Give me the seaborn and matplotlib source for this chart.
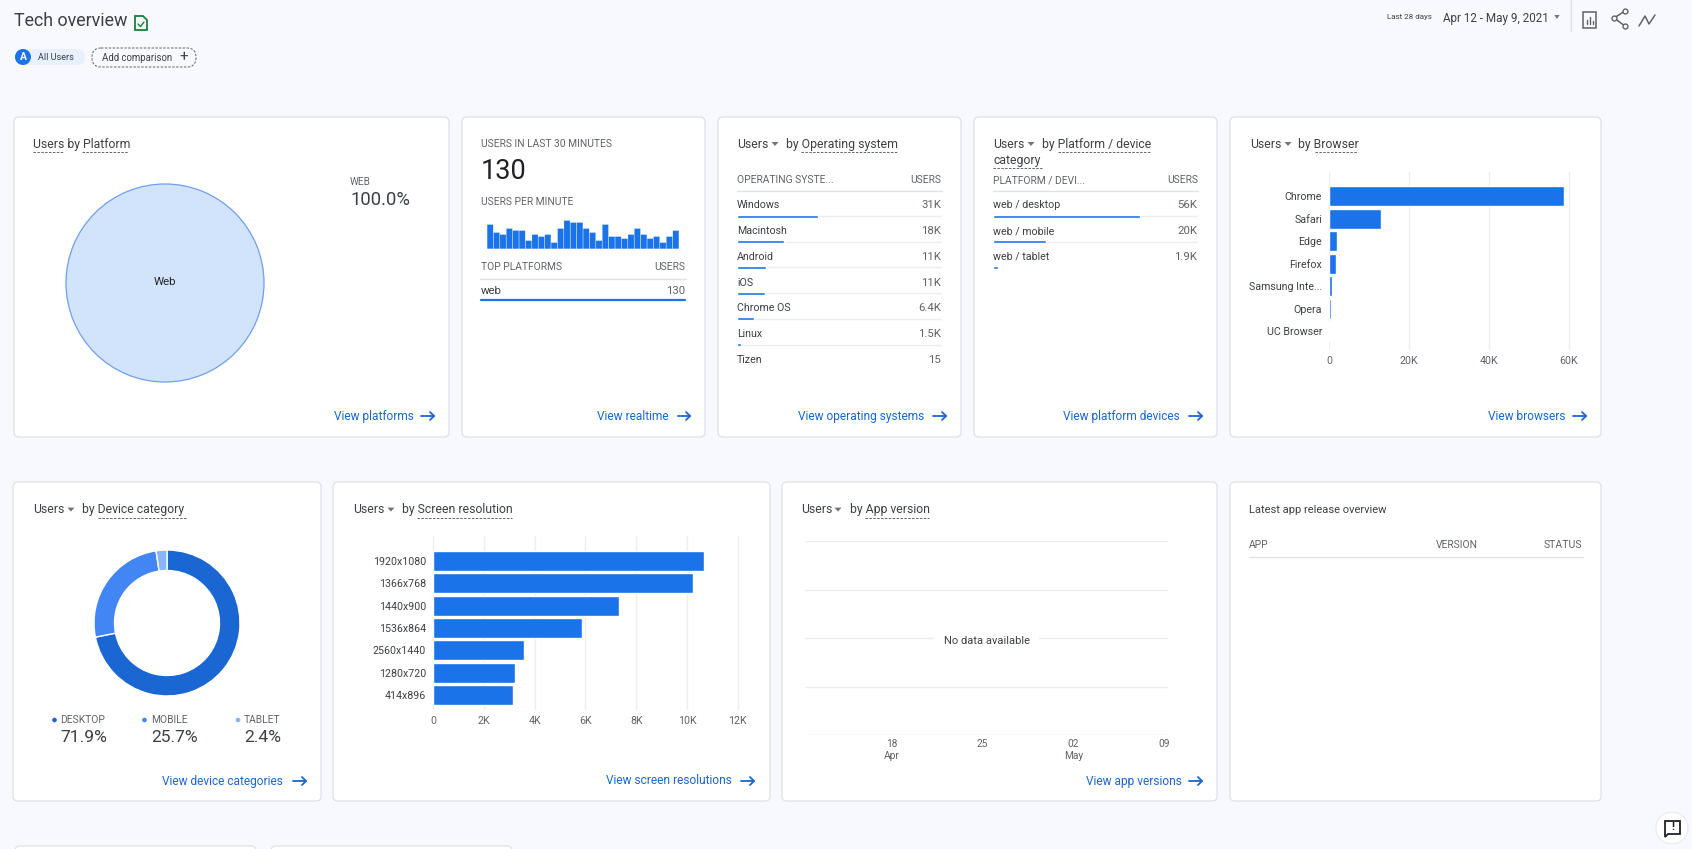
import matplotlib
matplotlib.use("Agg")
import matplotlib.pyplot as plt
from matplotlib.patches import FancyBboxPatch, Circle, Polygon, Rectangle
import seaborn as sns

platform_names = ["Web"]
platform_share = [100.0]

minute_slots = list(range(30))
users_per_minute = [12, 8, 7, 10, 9, 9, 4, 7, 6, 7, 3, 10, 14, 13, 13,
                    10, 8, 4, 12, 6, 6, 5, 7, 10, 7, 5, 6, 3, 6, 9]

os_names = ["Windows", "Macintosh", "Android", "iOS", "Chrome OS", "Linux", "Tizen"]
os_users = [31000, 18000, 11000, 10800, 6400, 1500, 15]
os_labels = ["31K", "18K", "11K", "11K", "6.4K", "1.5K", "15"]

device_rows = ["web / desktop", "web / mobile", "web / tablet"]
device_users = [56000, 20000, 1900]
device_labels = ["56K", "20K", "1.9K"]

browser_names = ["Chrome", "Safari", "Edge", "Firefox", "Samsung Inte...", "Opera", "UC Browser"]
browser_users = [58700, 13000, 2000, 1700, 700, 400, 200]
browser_ticks = [0, 20000, 40000, 60000]
browser_ticklabels = ["0", "20K", "40K", "60K"]

category_names = ["DESKTOP", "MOBILE", "TABLET"]
category_share = [71.9, 25.7, 2.4]

resolution_names = ["1920x1080", "1366x768", "1440x900", "1536x864", "2560x1440", "1280x720", "414x896"]
resolution_users = [10670, 10230, 7330, 5870, 3580, 3230, 3150]
resolution_ticks = [0, 2000, 4000, 6000, 8000, 10000, 12000]
resolution_ticklabels = ["0", "2K", "4K", "6K", "8K", "10K", "12K"]

version_days = [6, 13, 20, 27]
version_daylabels = ["18\nApr", "25", "02\nMay", "09"]
version_grid = [0, 1, 2, 3, 4]

# --- couleurs ---
BG = "#f8f9fe"
BORDER = "#dfe1e5"
GRID = "#eceef1"
TXT = "#3c4043"
TXT2 = "#5f6368"
LINK = "#1a66d2"
BLUE = "#1a73e8"

W, H = 1692, 849

sns.set_theme(style="white")
plt.rcParams["font.family"] = ["Roboto", "DejaVu Sans"]

fig = plt.figure(figsize=(W / 100, H / 100), dpi=100, facecolor=BG)

# axe de page en pixels, pour les cartes et les textes
page = fig.add_axes([0, 0, 1, 1])
page.set_xlim(0, W)
page.set_ylim(H, 0)
page.axis("off")


def px_axes(x0, y0, x1, y1):
    ax = fig.add_axes([x0 / W, 1 - y1 / H, (x1 - x0) / W, (y1 - y0) / H])
    ax.patch.set_alpha(0)
    return ax


def card(x0, y0, x1, y1):
    page.add_patch(FancyBboxPatch((x0, y0), x1 - x0, y1 - y0, boxstyle="round,pad=0,rounding_size=5",
                                  fc="white", ec=BORDER, lw=0.9, zorder=1))


def put(x, y, s, size=8.8, color=TXT, ha="left", **kw):
    page.text(x, y, s, fontsize=size, color=color, ha=ha, va="center", zorder=5, **kw)


def underline(x0, x1, y):
    page.plot([x0, x1], [y, y], color=TXT2, lw=0.7, ls=(0, (2.5, 1.5)), zorder=5)


def triangle(x, y, size=3.5, color="#70757a"):
    page.add_patch(Polygon([(x - size, y - 2), (x + size, y - 2), (x, y + 2)], fc=color, ec="none", zorder=5))


def card_title(x, x_tri, x_by, by, ul0, ul1, y):
    put(x, y, "Users")
    triangle(x_tri, y)
    put(x_by, y, by)
    underline(ul0, ul1, y + 8)


def link(x, x_a0, x_a1, y, s):
    put(x, y, s, size=8.6, color=LINK)
    page.plot([x_a0, x_a1], [y, y], color=LINK, lw=1.3, zorder=5)
    page.plot([x_a1 - 4, x_a1, x_a1 - 4], [y - 4, y, y + 4], color=LINK, lw=1.3, zorder=5)


def table_bars(x0, x1, y_first, row_h, names, values, labels):
    # une ligne par valeur: nom, total, barre fine sur le separateur
    n = len(values)
    ax = px_axes(x0, y_first - row_h / 2, x1, y_first + row_h * (n - 0.5))
    ax.hlines(range(n - 1), 0, sum(values), color=GRID, lw=1, zorder=1)
    sns.barplot(x=values, y=names, color=BLUE, saturation=1, width=3 / row_h, orient="h", ax=ax, zorder=2)
    ax.set_xlim(0, sum(values))
    ax.set_ylim(n - 0.5, -0.5)
    ax.axis("off")
    tr = ax.get_yaxis_transform()
    for i in range(n):
        ax.text(0, i - 0.41, names[i], transform=tr, fontsize=7.7, color=TXT, va="center")
        ax.text(0.995, i - 0.41, labels[i], transform=tr, fontsize=8.2, color=TXT2, va="center", ha="right")


def hbar_chart(box, names, values, ticks, ticklabels, xlim, ylim, bar_w):
    ax = px_axes(*box)
    sns.barplot(x=values, y=names, color=BLUE, saturation=1, width=bar_w, orient="h", ax=ax, zorder=2)
    ax.set_xlim(*xlim)
    ax.set_ylim(*ylim)
    ax.set_xlabel("")
    ax.set_ylabel("")
    ax.set_xticks(ticks, ticklabels)
    ax.grid(axis="x", color=GRID, lw=1, zorder=0)
    ax.tick_params(axis="both", length=0, labelsize=7.7, labelcolor=TXT2)
    ax.tick_params(axis="x", pad=4.5)
    ax.tick_params(axis="y", pad=5, labelcolor=TXT)
    sns.despine(ax=ax, left=True, bottom=True)
    return ax


# --- cartes ---
for box in [(14, 117, 449, 437), (462, 117, 705, 437), (718, 117, 961, 437),
            (974, 117, 1217, 437), (1230, 117, 1601, 437),
            (13, 482, 321, 801), (333, 482, 770, 801), (782, 482, 1217, 801), (1230, 482, 1601, 801),
            (15, 846, 256, 890), (271, 846, 512, 890)]:
    card(*box)

# --- en-tete ---
put(14, 21, "Tech overview", size=12.9)
page.add_patch(Polygon([(135, 16), (143, 16), (147, 20), (147, 30), (135, 30)], fc="none", ec="#188038", lw=1.3, zorder=5))
page.plot([138, 140.5, 144], [24, 26.5, 22], color="#188038", lw=1, zorder=5)

page.add_patch(FancyBboxPatch((15, 49), 70, 16, boxstyle="round,pad=0,rounding_size=8", fc="#e8f0fe", ec="none", zorder=2))
page.add_patch(Circle((23, 57), 8, fc=BLUE, ec="none", zorder=3))
put(23, 57, "A", size=7.5, color="white", ha="center", fontweight="bold")
put(38, 57.5, "All Users", size=6.6)
page.add_patch(FancyBboxPatch((92, 48), 104, 19, boxstyle="round,pad=0,rounding_size=9", fc="none", ec=TXT2,
                              lw=0.7, ls=(0, (2.5, 1.5)), zorder=3))
put(102, 57.5, "Add comparison", size=6.9)
put(184, 57, "+", size=11, ha="center")

put(1387, 17, "Last 28 days", size=5.8)
put(1443, 18, "Apr 12 - May 9, 2021", size=8.4)
triangle(1557, 17, size=2.6)
page.plot([1571, 1571], [0, 31], color=BORDER, lw=1, zorder=5)
page.add_patch(Rectangle((1583, 12), 13, 16, fc="none", ec=TXT2, lw=1.1, zorder=5))
page.plot([1587, 1587], [24, 20], color=TXT2, lw=1, zorder=5)
page.plot([1590, 1590], [24, 17], color=TXT2, lw=1, zorder=5)
page.plot([1593, 1593], [24, 21], color=TXT2, lw=1, zorder=5)
page.plot([1625, 1614, 1625], [11, 18, 26], color=TXT2, lw=1.1, marker="o", ms=3.5, mfc="white", mec=TXT2, zorder=5)
page.plot([1639, 1645, 1649, 1655], [26, 16, 24, 15], color=TXT2, lw=1.1, zorder=5)

# --- Users by Platform ---
put(33, 144, "Users by Platform")
underline(33, 63, 152)
underline(82, 128, 152)
ax_pie = px_axes(60, 178, 270, 388)
ax_pie.pie(platform_share, colors=["#d2e3fc"], radius=0.943, startangle=90,
           wedgeprops=dict(edgecolor="#6f9ff0", linewidth=0.9))
ax_pie.set_xlim(-1, 1)
ax_pie.set_ylim(-1, 1)
ax_pie.text(0, 0.01, platform_names[0], ha="center", va="center", fontsize=8.2, color="#202124")
put(350, 181.5, "WEB", size=7.2, color=TXT2)
put(350, 200, f"{platform_share[0]:.1f}%", size=13.3)
link(334, 421, 434, 416, "View platforms")

# --- temps reel ---
put(481, 144, "USERS IN LAST 30 MINUTES", size=7.4, color=TXT2)
put(481, 171, "130", size=19.5, color="#202124")
put(481, 202, "USERS PER MINUTE", size=7.4, color=TXT2)
ax_min = px_axes(487, 219.6, 679, 248.7)
sns.barplot(x=minute_slots, y=users_per_minute, color=BLUE, saturation=1, width=0.92, ax=ax_min)
# sans accrochage au pixel, sinon les intervalles entre barres sont irreguliers
for bar in ax_min.patches:
    bar.set_snap(False)
    bar.set_linewidth(0)
ax_min.set_xlim(-0.5, 29.5)
ax_min.set_ylim(0, 14.5)
ax_min.axis("off")
put(481, 267, "TOP PLATFORMS", size=7.4, color=TXT2)
put(685, 267, "USERS", size=7.4, color=TXT2, ha="right")
page.plot([480, 686], [278.5, 278.5], color=BORDER, lw=1, zorder=5)
put(481, 291, "web", size=8.2)
put(685, 291, "130", size=8.2, color=TXT2, ha="right")
page.plot([481, 685], [300, 300], color=BLUE, lw=1.6, zorder=5)
link(597, 678, 690, 416, "View realtime")

# --- Operating system ---
card_title(737, 775, 786, "by Operating system", 801, 898, 144)
put(737, 180, "OPERATING SYSTE...", size=7.4, color=TXT2)
put(941, 180, "USERS", size=7.4, color=TXT2, ha="right")
page.plot([737, 942], [191, 191], color=BORDER, lw=1, zorder=5)
table_bars(737, 942, 216, 25.7, os_names, os_users, os_labels)
link(798, 933, 946, 416, "View operating systems")

# --- Platform / device ---
card_title(993, 1031, 1042, "by Platform / device", 1058, 1150, 144)
put(993, 160, "category")
underline(993, 1042, 168)
put(993, 180, "PLATFORM / DEVI...", size=7.4, color=TXT2)
put(1198, 180, "USERS", size=7.4, color=TXT2, ha="right")
page.plot([993, 1198], [191, 191], color=BORDER, lw=1, zorder=5)
table_bars(993, 1198, 216, 25.7, device_rows, device_users, device_labels)
link(1063, 1189, 1202, 416, "View platform devices")

# --- Browser ---
card_title(1250, 1288, 1298, "by Browser", 1315, 1358, 144)
hbar_chart((1329, 172, 1585, 350), browser_names, browser_users, browser_ticks, browser_ticklabels,
           (0, 64000), (6.84, -1.07), 0.89)
link(1488, 1573, 1586, 416, "View browsers")

# --- Device category ---
card_title(33, 71, 82, "by Device category", 98, 186, 509.6)
ax_donut = px_axes(87, 543, 247, 703)
ax_donut.pie(category_share, colors=["#1a66d2", "#4285f4", "#8ab4f8"], startangle=90, counterclock=False,
             radius=0.9125, wedgeprops=dict(width=0.2563))
ax_donut.set_xlim(-1, 1)
ax_donut.set_ylim(-1, 1)
for x_txt, x_dot, name, share, col in zip([60, 151, 244], [54.5, 144.5, 238], category_names, category_share,
                                          ["#1a66d2", "#4285f4", "#8ab4f8"]):
    page.add_patch(Circle((x_dot, 720), 2.3, fc=col, ec="none", zorder=5))
    put(x_txt, 720, name, size=7.4, color=TXT2)
    put(x_txt, 738, f"{share:.1f}%", size=12.6)
link(162, 293, 306, 781, "View device categories")

# --- Screen resolution ---
card_title(353, 391, 402, "by Screen resolution", 417, 512, 509.6)
hbar_chart((433, 536, 750, 710), resolution_names, resolution_users, resolution_ticks, resolution_ticklabels,
           (0, 12480), (6.67, -1.11), 0.89)
link(606, 741, 754, 781, "View screen resolutions")

# --- App version ---
card_title(801, 838, 850, "by App version", 865, 929, 509.6)
ax_ver = px_axes(805, 541, 1168, 735)
ax_ver.hlines(version_grid, -0.7, 27.3, color=GRID, lw=1)
ax_ver.set_xlim(-0.7, 27.3)
ax_ver.set_ylim(0, 4)
ax_ver.set_yticks([])
ax_ver.set_xticks(version_days, version_daylabels)
ax_ver.tick_params(axis="x", length=0, labelsize=7.3, labelcolor=TXT2, pad=3)
sns.despine(ax=ax_ver, left=True, bottom=True)
ax_ver.text(0.5, 0.485, "No data available", transform=ax_ver.transAxes, ha="center", va="center", fontsize=8,
            color=TXT, bbox=dict(fc="white", ec="none", pad=7))
link(1086, 1189, 1202, 781, "View app versions")

# --- Latest app release ---
put(1249, 509.6, "Latest app release overview", size=8)
put(1249, 544.6, "APP", size=7.4, color=TXT2)
put(1436, 544.6, "VERSION", size=7.4, color=TXT2)
put(1582, 544.6, "STATUS", size=7.6, color=TXT2, ha="right")
page.plot([1249, 1583], [556.6, 556.6], color=BORDER, lw=1, zorder=5)

# --- bouton retour ---
page.add_patch(Circle((1672, 828), 16, fc="white", ec="#ebedf0", lw=1, zorder=6))
page.add_patch(Polygon([(1665, 821), (1680, 821), (1680, 834), (1668, 834), (1665, 837)], fc="none", ec="#202124", lw=1.3, zorder=7))
page.text(1672.5, 827.5, "!", fontsize=8, color="#202124", ha="center", va="center", fontweight="bold", zorder=7)

fig.savefig("out.png", dpi=100, facecolor=BG)
